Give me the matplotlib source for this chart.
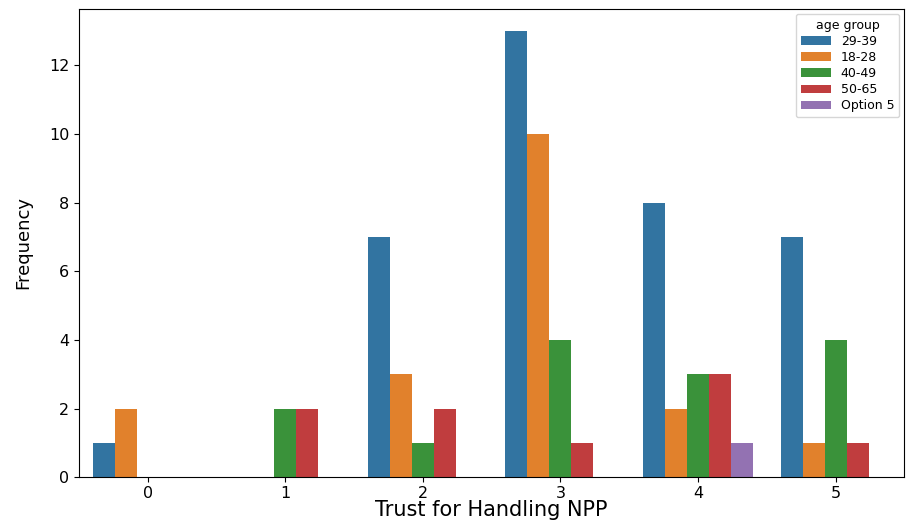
import matplotlib
matplotlib.use('Agg')
import matplotlib.pyplot as plt
import seaborn as sns
import pandas as pd

# trust scores on the x axis
trust_levels = [0, 1, 2, 3, 4, 5]
age_groups = ['29-39', '18-28', '40-49', '50-65', 'Option 5']

# counts per age group for each trust level
count_29_39 = [1, 0, 7, 13, 8, 7]
count_18_28 = [2, 0, 3, 10, 2, 1]
count_40_49 = [0, 2, 1, 4, 3, 4]
count_50_65 = [0, 2, 2, 1, 3, 1]
count_option5 = [0, 0, 0, 0, 1, 0]


def build_frame():
    rows = []
    series = [count_29_39, count_18_28, count_40_49, count_50_65, count_option5]
    for group, counts in zip(age_groups, series):
        for level, c in zip(trust_levels, counts):
            rows.append({'Trust for Handling NPP': level, 'age group': group, 'Frequency': c})
    return pd.DataFrame(rows)


def main():
    df = build_frame()
    fig, ax = plt.subplots(figsize=(9.08, 5.22), dpi=100)
    sns.barplot(data=df, x='Trust for Handling NPP', y='Frequency', hue='age group',
                hue_order=age_groups, order=trust_levels, palette='tab10',
                saturation=0.75, ax=ax, errorbar=None)
    ax.set_xlabel('Trust for Handling NPP', fontsize=15, labelpad=-1)
    ax.set_ylabel('Frequency', fontsize=13, labelpad=12)
    ax.tick_params(labelsize=11.5)
    ax.tick_params(axis='x', pad=3)
    ax.set_yticks([0, 2, 4, 6, 8, 10, 12])
    ax.set_xlim(-0.5, 5.5)
    ax.set_ylim(0, 13.65)
    ax.legend(title='age group', loc='upper right', fontsize=9, title_fontsize=9,
              labelspacing=0.25, handlelength=2.4, borderaxespad=0.4)
    fig.subplots_adjust(left=0.087, right=0.996, top=0.983, bottom=0.086)
    fig.savefig('out.png')


if __name__ == '__main__':
    main()
